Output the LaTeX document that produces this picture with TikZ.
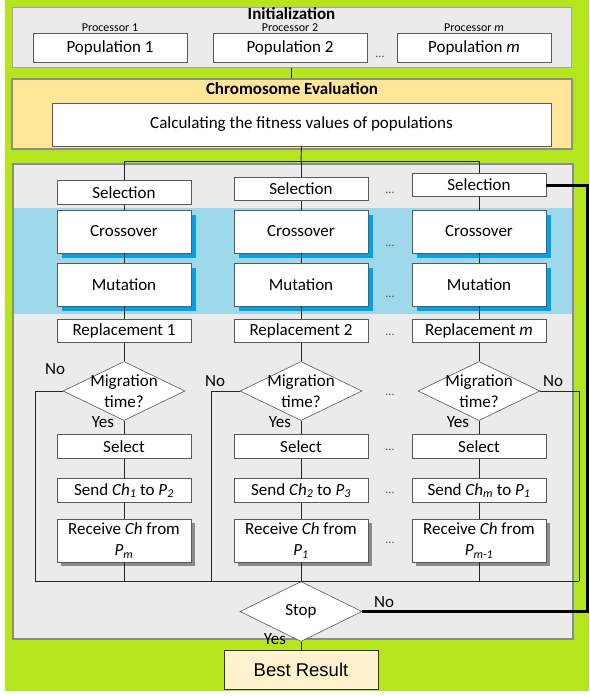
\documentclass[tikz,border=0pt]{standalone}
\usepackage{fontspec}
\setmainfont{Carlito}
\newfontfamily\arialf{Liberation Sans}
\usetikzlibrary{shapes.geometric,shadows}
\definecolor{bggreen}{HTML}{B5E61D}
\definecolor{panelgray}{HTML}{EBEBEB}
\definecolor{evalorange}{HTML}{FFE699}
\definecolor{bandblue}{HTML}{9DD9EA}
\definecolor{shblue}{HTML}{00A2E8}
\definecolor{shgray}{HTML}{8C8C8C}
\definecolor{bestfill}{HTML}{FFF2CC}
\definecolor{edgec}{HTML}{595959}
\definecolor{paneledge}{HTML}{8C8C8C}
\begin{document}
\begin{tikzpicture}[x=1pt,y=-1pt,
  txt/.style={font=\fontsize{17}{21}\selectfont, inner sep=0pt, align=center},
  box/.style={draw=edgec, line width=0.7pt, fill=white, minimum width=134pt, inner sep=0pt, font=\fontsize{17}{21.5}\selectfont, align=center},
  shortbox/.style={box, minimum height=23.5pt},
  tallbox/.style={box, minimum height=43pt},
  blueshadow/.style={drop shadow={shadow xshift=5pt, shadow yshift=-5pt, fill=shblue, opacity=1}},
  grayshadow/.style={drop shadow={shadow xshift=4pt, shadow yshift=-4pt, fill=shgray, opacity=1}},
  diam/.style={diamond, draw=edgec, line width=0.6pt, fill=white, minimum width=122pt, minimum height=59pt, inner sep=0pt},
  conn/.style={draw=black!85, line width=0.9pt},
  thick/.style={draw=black, line width=3pt},
  lbl/.style={font=\fontsize{17}{20}\selectfont, inner sep=0pt},
  dots/.style={font=\fontsize{12}{14}\selectfont, inner sep=0pt, text=black!70},
  proc/.style={font=\fontsize{12}{14}\selectfont, inner sep=0pt},
  ttl/.style={font=\bfseries\fontsize{17}{20}\selectfont, inner sep=0pt}
]
\useasboundingbox (0,0) rectangle (589,696);
\fill[bggreen] (5,0) rectangle (589,691);

% Initialization panel
\node[draw=paneledge!80, line width=1pt, fill=panelgray, minimum width=559pt, minimum height=60pt, inner sep=0pt] (init) at (291.5,37) {};
\node[ttl] (initt) at (291.5,14) {Initialization};
\node[box, minimum width=154pt, minimum height=29pt] (pop1) at (110,47.5) {Population 1};
\node[box, minimum width=154pt, minimum height=29pt] (pop2) at (290,47.5) {Population 2};
\node[box, minimum width=154pt, minimum height=29pt] (popm) at (474,47.5) {Population \textit{m}};
\node[proc] (pr1) at (110,28) {Processor 1};
\node[proc] (pr2) at (290,28) {Processor 2};
\node[proc] (prm) at (474,28) {Processor \textit{m}};
\node[dots] (d0) at (380,57) {...};

% Chromosome evaluation panel
\node[draw=paneledge, line width=1.3pt, fill=evalorange, minimum width=560pt, minimum height=70pt, inner sep=0pt] (eval) at (292,114) {};
\node[ttl] (evalt) at (292,89) {Chromosome Evaluation};
\node[box, minimum width=499pt, minimum height=43pt] (calc) at (301.5,124.5) {Calculating the fitness values of populations};
\draw[conn] (init.south) -- (init.south |- eval.north);

% main panel
\fill[panelgray] (13,164) rectangle (573,639);
\fill[bandblue] (13,208) rectangle (573,314);
\draw[paneledge, line width=1.3pt] (13,164) rectangle (573,639);

% column 1
\node[shortbox] (sel1) at (124,192.5) {Selection};
\node[tallbox, blueshadow] (cro1) at (124,231.5) {Crossover};
\node[tallbox, blueshadow] (mut1) at (124,284.5) {Mutation};
\node[shortbox] (rep1) at (124,331) {Replacement 1};
\node[diam] (mig1) at (124,391) {};
\node[txt] (mig1t) at (124,391) {Migration\\time?};
\node[shortbox] (slc1) at (124,446.5) {Select};
\node[shortbox] (snd1) at (124,490.5) {Send \textit{Ch\textsubscript{1}} to \textit{P\textsubscript{2}}};
\node[tallbox, grayshadow] (rcv1) at (124,540.5) {Receive \textit{Ch} from\\\textit{P\textsubscript{m}}};

% column 2
\node[shortbox] (sel2) at (301,189) {Selection};
\node[tallbox, blueshadow] (cro2) at (301,231.5) {Crossover};
\node[tallbox, blueshadow] (mut2) at (301,284.5) {Mutation};
\node[shortbox] (rep2) at (301,331) {Replacement 2};
\node[diam] (mig2) at (301,391) {};
\node[txt] (mig2t) at (301,391) {Migration\\time?};
\node[shortbox] (slc2) at (301,446.5) {Select};
\node[shortbox] (snd2) at (301,490.5) {Send \textit{Ch\textsubscript{2}} to \textit{P\textsubscript{3}}};
\node[tallbox, grayshadow] (rcv2) at (301,540.5) {Receive \textit{Ch} from\\\textit{P\textsubscript{1}}};

% column m
\node[shortbox] (selm) at (479,185) {Selection};
\node[tallbox, blueshadow] (crom) at (479,231.5) {Crossover};
\node[tallbox, blueshadow] (mutm) at (479,284.5) {Mutation};
\node[shortbox] (repm) at (479,331) {Replacement \textit{m}};
\node[diam] (migm) at (479,391) {};
\node[txt] (migmt) at (479,391) {Migration\\time?};
\node[shortbox] (slcm) at (479,446.5) {Select};
\node[shortbox] (sndm) at (479,490.5) {Send \textit{Ch\textsubscript{m}} to \textit{P\textsubscript{1}}};
\node[tallbox, grayshadow] (rcvm) at (479,540.5) {Receive \textit{Ch} from\\\textit{P\textsubscript{m-1}}};

% dots
\node[dots] (d1) at (390,193) {...};
\node[dots] (d2) at (390,246) {...};
\node[dots] (d3) at (390,297) {...};
\node[dots] (d4) at (390,335) {...};
\node[dots] (d5) at (390,395) {...};
\node[dots] (d6) at (390,450) {...};
\node[dots] (d7) at (390,493) {...};
\node[dots] (d8) at (390,543) {...};

% stop and result
\node[diam, minimum height=60pt] (stop) at (301,611.5) {};
\node[txt] (stopt) at (301,611.5) {Stop};
\node[draw=black!80, line width=0.9pt, fill=bestfill, minimum width=154pt, minimum height=39pt, inner sep=0pt, font=\arialf\fontsize{18.5}{22}\selectfont] (best) at (301,669.5) {Best Result};

% coordinates
\coordinate (split) at (301,161);
\coordinate (s1) at (124,161);
\coordinate (sm) at (479,161);
\coordinate (n1) at (35,391);
\coordinate (n1b) at (35,581);
\coordinate (n2) at (211,391);
\coordinate (n2b) at (211,581);
\coordinate (nm) at (579,391);
\coordinate (nmb) at (579,581);
\coordinate (t1) at (587,185);
\coordinate (t2) at (587,611.5);

% connectors
\draw[conn] (calc.south) -- (split);
\draw[conn] (s1) -- (sm);
\draw[conn] (s1) -- (sel1.north);
\draw[conn] (split) -- (sel2.north);
\draw[conn] (sm) -- (selm.north);
\foreach \c in {1,2,m}{
  \draw[conn] (sel\c) -- (cro\c);
  \draw[conn] (cro\c) -- (mut\c);
  \draw[conn] (mut\c) -- (rep\c);
  \draw[conn] (rep\c) -- (mig\c.north);
  \draw[conn] (mig\c.south) -- (slc\c);
  \draw[conn] (slc\c) -- (snd\c);
  \draw[conn] (snd\c) -- (rcv\c);
}
\draw[conn] (rcv1.south) -- (rcv1.south |- n1b);
\draw[conn] (rcvm.south) -- (rcvm.south |- nmb);
\draw[conn] (rcv2.south) -- (stop.north);
\draw[conn] (mig1.west) -- (n1) -- (n1b) -- (nmb);
\draw[conn] (mig2.west) -- (n2) -- (n2b);
\draw[conn] (migm.east) -- (nm) -- (nmb);
\draw[thick] (selm.east) -- (t1) -- (t2) -- (stop.east);
\draw[conn] (stop.south) -- (best.north);

% labels
\node[lbl] (no1) at (55,369) {No};
\node[lbl] (no2) at (215,381) {No};
\node[lbl] (nom) at (553,381) {No};
\node[lbl] (yes1) at (103,422) {Yes};
\node[lbl] (yes2) at (280,422) {Yes};
\node[lbl] (yesm) at (458,422) {Yes};
\node[lbl] (nostop) at (384,602) {No};
\node[lbl] (yesstop) at (275,639) {Yes};
\end{tikzpicture}
\end{document}
